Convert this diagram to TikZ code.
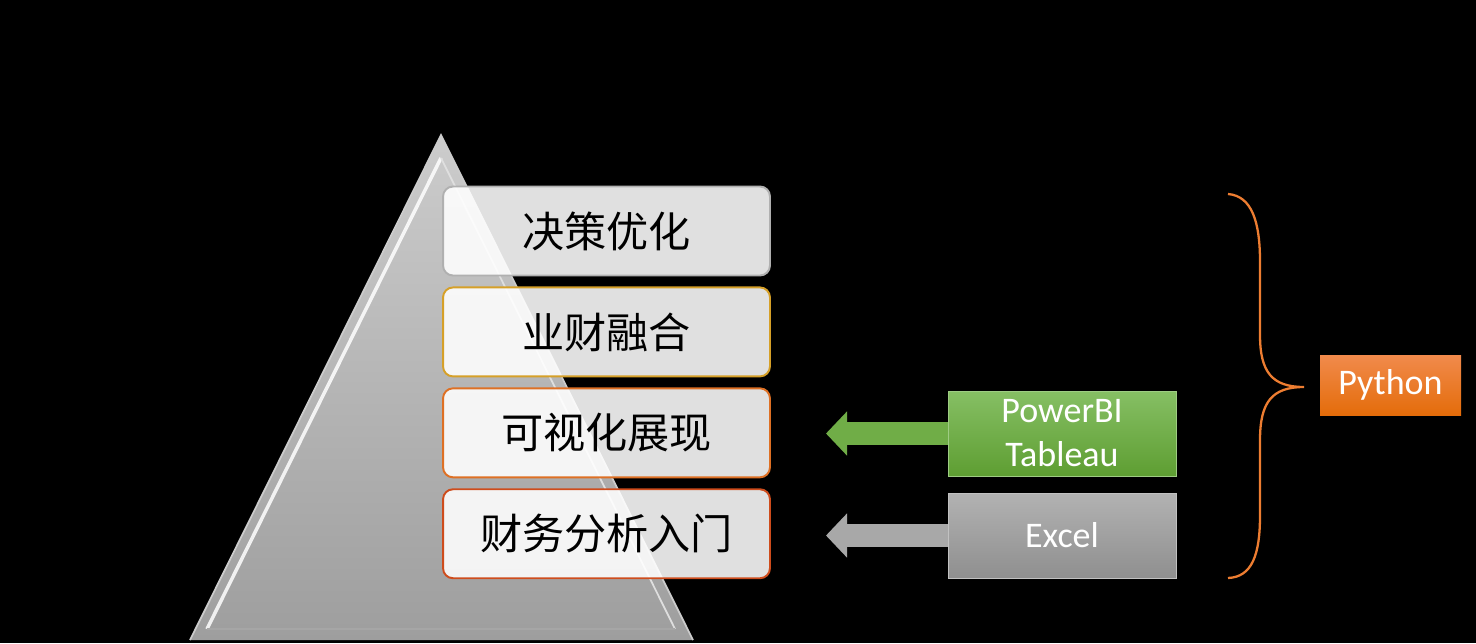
\documentclass[tikz,border=0pt]{standalone}
\usepackage{tikz}
\usetikzlibrary{calc,arrows.meta,positioning}
\usepackage{xcolor}
\usepackage{fontspec}
\setmainfont{Carlito}
\newfontfamily\zhfont{Noto Sans CJK SC}
\definecolor{pyrtop}{RGB}{204,204,204}
\definecolor{pyrbot}{RGB}{158,158,158}
\definecolor{bdgray}{RGB}{176,176,176}
\definecolor{bdgold}{RGB}{214,160,40}
\definecolor{bdorange}{RGB}{222,112,36}
\definecolor{bdred}{RGB}{206,76,28}
\definecolor{grtop}{RGB}{134,191,100}
\definecolor{grbot}{RGB}{94,158,50}
\definecolor{gytop}{RGB}{178,178,178}
\definecolor{gybot}{RGB}{143,143,143}
\definecolor{ortop}{RGB}{241,138,76}
\definecolor{orbot}{RGB}{228,108,10}
\definecolor{brace}{RGB}{237,125,49}
\newcommand{\zh}[1]{{\zhfont #1}}

\begin{document}
\begin{tikzpicture}[x=0.02cm,y=-0.02cm,
		lvl/.style={rounded corners=0.2cm,fill=white,fill opacity=.88,text opacity=1,
			minimum width=6.54cm,minimum height=1.78cm,line width=1.1pt,
			font=\fontsize{24}{28}\selectfont},
		tool/.style={minimum width=4.56cm,minimum height=1.7cm,text=white,align=center,
			font=\fontsize{20.5}{25}\selectfont},
		fat/.style={line width=0.46cm,-{Triangle[length=0.42cm,width=0.86cm]}}]
		\fill[black] (0,0) rectangle (1476,643);
		\useasboundingbox (0,0) rectangle (1476,643);
		% pyramid
		\fill[top color=pyrtop,bottom color=pyrbot] (441,135) -- (693,640) -- (190,640) -- cycle;
		\draw[gray!40,line width=1pt] (190,640) -- (441,135) -- (693,640);
		\draw[white,line width=2pt,opacity=.85] (207,629) -- (441,158);
		\draw[white!75!gray,line width=1pt] (441,158) -- (675,629);
		\draw[gray!70,line width=1pt] (207,629) -- (675,629);
		% levels
		\node[lvl,draw=bdgray] (jc) at (606.5,231) {\zh{决策优化}};
		\node[lvl,draw=bdgold,below=0.2cm of jc] (yc) {\zh{业财融合}};
		\node[lvl,draw=bdorange,below=0.2cm of yc] (ks) {\zh{可视化展现}};
		\node[lvl,draw=bdred,below=0.2cm of ks] (cw) {\zh{财务分析入门}};
		% tools
		\node[tool,top color=grtop,bottom color=grbot,draw=grtop!80!white] (pbi) at (1062,433.5) {PowerBI\\Tableau};
		\node[tool,top color=gytop,bottom color=gybot,draw=gytop!80!white] (xl) at (1062,535.5) {Excel};
		\node[minimum width=2.82cm,minimum height=1.2cm,text=white,top color=ortop,bottom color=orbot,
			font=\fontsize{20.5}{25}\selectfont] (py) at (1390.5,385) {Python};
		\coordinate (pbitip) at (826,433.5);
		\coordinate (xltip) at (826,535.5);
		\draw[fat,color={rgb,255:red,112;green,173;blue,71}] (pbi) -- (pbitip);
		\draw[fat,color={rgb,255:red,168;green,168;blue,168}] (xl) -- (xltip);
		% brace
		\draw[brace,line width=1.3pt] (1228,194) .. controls (1252,196) and (1260,222) .. (1260,262)
			-- (1260,335) .. controls (1260,372) and (1272,387) .. (1304,387)
			.. controls (1272,387) and (1260,402) .. (1260,440)
			-- (1260,515) .. controls (1260,555) and (1252,577) .. (1228,578);
	\end{tikzpicture}
\end{document}
